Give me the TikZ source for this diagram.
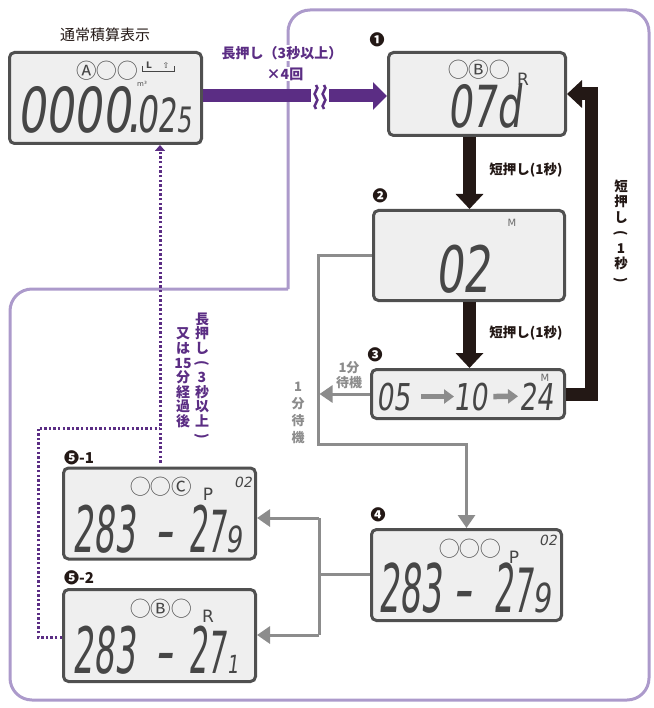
\documentclass[tikz,border=0pt]{standalone}
\usepackage{fontspec}
\usepackage{graphicx}
\usetikzlibrary{arrows.meta}
\newfontfamily\jp{Noto Sans CJK JP}
\newfontfamily\lcdf{DejaVu Sans}[FakeSlant=0.18]
\newfontfamily\dv{DejaVu Sans}
\definecolor{pdark}{HTML}{5B2D84}
\definecolor{plight}{HTML}{AC9ACB}
\definecolor{blk}{HTML}{231815}
\definecolor{gr}{HTML}{8C8C8C}
\definecolor{lcdbg}{HTML}{EFEFEF}
\definecolor{lcdline}{HTML}{505050}
\definecolor{segc}{HTML}{464646}
\newcommand{\lcdd}[3]{{\fontsize{#1}{#1}\selectfont\lcdf\scalebox{#2}[1]{#3}}}
\newcommand{\vp}[1]{\rotatebox[origin=c]{-90}{#1}}
\tikzset{
 lcd/.style={draw=lcdline, line width=3pt, fill=lcdbg, rounded corners=5pt, inner sep=0pt},
 seg/.style={text=segc, inner sep=0pt, anchor=base west},
 ind/.style={text=segc, inner sep=0pt, font=\jp\fontsize{20.5}{20.5}\selectfont},
 letr/.style={text=segc, inner sep=0pt, font=\dv\fontsize{17}{17}\selectfont},
 tinyl/.style={text=segc!80, inner sep=0pt, font=\dv\fontsize{10}{10}\selectfont},
 tdig/.style={text=segc, inner sep=0pt, font=\lcdf\fontsize{14}{14}\selectfont},
 num/.style={inner sep=0pt, text=blk, font=\jp\bfseries\fontsize{15}{15}\selectfont},
 plab/.style={text=pdark, inner sep=1pt, font=\jp\bfseries\fontsize{14}{14.6}\selectfont},
 blab/.style={text=blk, inner sep=1pt, font=\jp\bfseries\fontsize{13.5}{16}\selectfont},
 glab/.style={text=gr, inner sep=1pt, font=\jp\bfseries\fontsize{13}{15}\selectfont},
 pbar/.style={pdark, line width=13pt},
 kbar/.style={blk, line width=13pt, -{Triangle[length=15pt,width=27pt]}},
 garrow/.style={gr, line width=3pt, -{Triangle[length=13pt,width=17pt]}},
 gline/.style={gr, line width=3pt},
 pdot/.style={pdark, line width=3pt, dash pattern=on 2.4pt off 2.2pt},
 lcdarrow/.style={gr, line width=5.5pt, -{Triangle[length=10pt,width=14pt]}},
}
\begin{document}
\begin{tikzpicture}[x=1pt,y=-1pt]
\useasboundingbox (0,0) rectangle (653,708);
% outline region
\draw[plight, line width=3pt, rounded corners=22pt, line cap=square] (288,289) -- (288,10) -- (649,10) -- (649,700) -- (10,700) -- (10,289) -- (288,289);

% LCD boxes
\node[lcd, minimum width=192pt, minimum height=91pt] (d0) at (105.5,98) {};
\node[lcd, minimum width=177pt, minimum height=83pt] (d1) at (477,94) {};
\node[lcd, minimum width=191pt, minimum height=90pt] (d2) at (469,255.5) {};
\node[lcd, minimum width=193pt, minimum height=49pt] (d3) at (468,394) {};
\node[lcd, minimum width=190pt, minimum height=91pt] (d4) at (466.5,575) {};
\node[lcd, minimum width=192pt, minimum height=91pt] (d51) at (159.5,513.5) {};
\node[lcd, minimum width=192pt, minimum height=92pt] (d52) at (159.5,635.5) {};

% title and markers
\node[inner sep=0pt, text=blk, font=\jp\fontsize{15}{15}\selectfont] (t0) at (105,35) {通常積算表示};
\node[num] (n1) at (377,40) {❶};
\node[num] (n2) at (380,196) {❷};
\node[num] (n3) at (375,355) {❸};
\node[num] (n4) at (378,515) {❹};
\node[num] (n51) at (79,458) {❺-1};
\node[num] (n52) at (79,578) {❺-2};

% purple long-press arrow
\coordinate (pa) at ([yshift=2pt]d0.east);
\draw[pbar, -{Triangle[length=14pt,width=27pt]}] (pa) -- (pa -| d1.west);
\fill[white] (311,80) rectangle (329,112);
\draw[pdark, line width=2.5pt] (316,85) .. controls (321,89) and (311,93) .. (316,97) .. controls (321,101) and (311,105) .. (316,109);
\draw[pdark, line width=2.5pt] (324,85) .. controls (329,89) and (319,93) .. (324,97) .. controls (329,101) and (319,105) .. (324,109);
\node[plab, fill=white] (l1) at (282,53) {長押し（3秒以上）};
\node[plab, fill=white] (l2) at (285,74) {×4回};

% black short-press arrows
\coordinate (cx) at (469.5,0);
\draw[kbar] (d1.south -| cx) -- (d2.north -| cx);
\draw[kbar] (d2.south -| cx) -- (d3.north -| cx);
\node[blab] (s1) at (526,170) {短押し(1秒)};
\node[blab] (s2) at (526,333) {短押し(1秒)};
\coordinate (lx) at (591.5,0);
\draw[kbar, line join=miter] (d3.east) -- (d3.east -| lx) -- (d1.east -| lx) -- (d1.east);
\node[blab, align=center, font=\jp\bfseries\fontsize{13.5}{15.5}\selectfont] (s3) at (621,232) {短\\押\\し\\\vp{(}\\1\\秒\\\vp{)}};

% gray wait arrows
\coordinate (g1) at (318,255.5);
\coordinate (g2) at (318,444);
\coordinate (g3) at (466.5,444);
\draw[garrow] (d2.west) -- (g1) -- (g2) -- (g3) -- (d4.north);
\coordinate (g4) at (319.5,394);
\draw[garrow] (d3.west) -- (g4);
\node[glab, align=center] (w1) at (349,375) {1分\\待機};
\node[glab, align=center, font=\jp\bfseries\fontsize{13}{17}\selectfont] (w2) at (298,413) {1\\分\\待\\機};
\coordinate (g5) at (319,574);
\coordinate (g6) at (319,518);
\coordinate (g7) at (319,635);
\draw[gline] (d4.west |- g5) -- (g5);
\draw[gline] (g6) -- (g7);
\draw[garrow] (g6) -- (g6 -| d51.east);
\draw[garrow] (g7) -- (g7 -| d52.east);

% purple dotted return
\coordinate (q0) at (160,0);
\draw[pdot, shorten <=4pt, -{Triangle[length=6pt,width=10pt]}] (d51.north -| q0) -- (d0.south -| q0);
\coordinate (q1) at (38,637);
\coordinate (q2) at (38,428);
\coordinate (q3) at (160,428);
\draw[pdot] (d52.west |- q1) -- (q1) -- (q2) -- (q3);
\node[plab, align=center] (v1) at (202,377) {長\\押\\し\\\vp{(}\\3\\秒\\以\\上\\\vp{)}};
\node[plab, align=center] (v2) at (183,378) {又\\は\\15\\分\\経\\過\\後};

% LCD 0 contents
\node[ind] (i0) at (107,71) {Ⓐ◯◯};
\node[inner sep=0pt, text=segc, font=\dv\bfseries\fontsize{9}{9}\selectfont, anchor=base] (i0L) at (149,69) {L};
\node[inner sep=0pt, text=segc, font=\dv\fontsize{8}{8}\selectfont, anchor=base] (i0u) at (166,69) {⇧};
\draw[segc, line width=0.9pt] (142,66) -- (142,71) -- (174,71) -- (174,66);
\node[inner sep=0pt, text=segc, font=\dv\fontsize{7}{7}\selectfont] (i0m) at (142,84) {m³};
\node[seg] (x0) at (17,133) {\lcdd{62}{0.72}{0000}\kern-4pt\lcdd{62}{0.72}{.}\kern-4pt\lcdd{50}{0.66}{0}\lcdd{47}{0.62}{2}\lcdd{35}{0.68}{5}};

% LCD 1
\node[ind] (i1) at (479,70) {◯Ⓑ◯};
\node[letr] (r1) at (523,79) {R};
\node[seg] (x1) at (447,128) {\lcdd{58}{0.67}{07d}};

% LCD 2
\node[tinyl] (m2) at (512,223) {M};
\node[seg] (x2) at (435,292) {\lcdd{64}{0.68}{02}};

% LCD 3
\node[tinyl] (m3) at (545,378) {M};
\node[seg] (a05) at (376,410) {\lcdd{37}{0.72}{05}};
\node[seg] (a10) at (453,410) {\lcdd{37}{0.72}{10}};
\node[seg] (a24) at (519,410) {\lcdd{37}{0.72}{24}};
\draw[lcdarrow] ([xshift=11pt]a05.east) -- ([xshift=1pt]a10.west);
\draw[lcdarrow] ([xshift=6pt]a10.east) -- ([xshift=-1pt]a24.west);

% LCD 4
\node[ind] (i4) at (470,549) {◯◯◯};
\node[letr] (p4) at (514,557) {P};
\node[tdig] (c4) at (548,540) {02};
\node[seg] (x4a) at (378,612) {\lcdd{67}{0.5}{283}};
\node[seg] (x4b) at (452,612) {\lcdd{67}{0.8}{-}};
\node[seg] (x4c) at (493,612) {\lcdd{67}{0.47}{2}\lcdd{61}{0.5}{7}\lcdd{40}{0.72}{9}};

% LCD 5-1
\node[ind] (i51) at (161,487) {◯◯Ⓒ};
\node[letr] (p51) at (208,494) {P};
\node[tdig] (c51) at (243,482) {02};
\node[seg] (x51a) at (72,552) {\lcdd{64}{0.52}{283}};
\node[seg] (x51b) at (154,552) {\lcdd{64}{0.8}{-}};
\node[seg] (x51c) at (188,552) {\lcdd{64}{0.47}{2}\lcdd{58}{0.5}{7}\lcdd{36}{0.72}{9}};

% LCD 5-2
\node[ind] (i52) at (161,609) {◯Ⓑ◯};
\node[letr] (r52) at (208,616) {R};
\node[seg] (x52a) at (72,673) {\lcdd{64}{0.52}{283}};
\node[seg] (x52b) at (154,673) {\lcdd{64}{0.8}{-}};
\node[seg] (x52c) at (188,673) {\lcdd{64}{0.47}{2}\lcdd{58}{0.5}{7}\kern1pt\lcdd{25}{0.72}{1}};
\end{tikzpicture}
\end{document}
